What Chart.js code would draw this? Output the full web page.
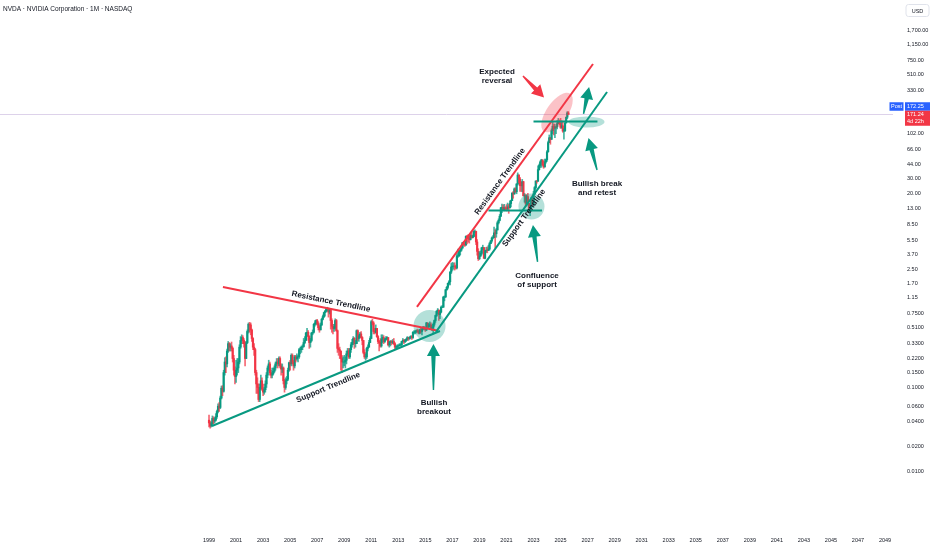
<!DOCTYPE html>
<html><head><meta charset="utf-8">
<script src="https://cdn.jsdelivr.net/npm/chart.js@4.4.1/dist/chart.umd.min.js"></script>
<style>html,body{margin:0;padding:0;background:#fff;overflow:hidden}canvas{display:block}</style>
</head><body>
<canvas id="c" width="932" height="550"></canvas>
<script>
// ---- DATA (NVDA monthly, split-adjusted, Jan 1999 .. Aug 2025) ----
const firstYear = 1999;
const firstOpen = 0.041;
const closes = [
0.038,0.035,0.037,0.043,0.040,0.041,0.045,0.052,0.060,0.058,0.075,0.098,
0.090,0.150,0.200,0.190,0.270,0.330,0.300,0.310,0.290,0.220,0.160,0.135,
0.160,0.170,0.200,0.300,0.360,0.390,0.360,0.330,0.220,0.340,0.460,0.560,
0.550,0.480,0.380,0.300,0.280,0.150,0.110,0.100,0.072,0.100,0.120,0.096,
0.088,0.094,0.110,0.140,0.170,0.190,0.150,0.140,0.145,0.155,0.170,0.190,
0.200,0.190,0.220,0.180,0.165,0.170,0.120,0.100,0.120,0.125,0.160,0.196,
0.190,0.240,0.200,0.180,0.230,0.220,0.230,0.230,0.280,0.280,0.300,0.305,
0.340,0.360,0.440,0.450,0.400,0.340,0.360,0.440,0.450,0.560,0.580,0.620,
0.570,0.510,0.480,0.550,0.640,0.690,0.770,0.800,0.850,0.850,0.780,0.840,
0.620,0.530,0.500,0.510,0.620,0.470,0.290,0.280,0.270,0.220,0.200,0.200,
0.200,0.210,0.250,0.270,0.230,0.280,0.320,0.340,0.380,0.330,0.330,0.470,
0.380,0.400,0.430,0.390,0.360,0.260,0.230,0.230,0.290,0.300,0.340,0.380,
0.600,0.580,0.460,0.450,0.500,0.400,0.350,0.340,0.310,0.370,0.390,0.350,
0.370,0.380,0.390,0.320,0.340,0.350,0.340,0.350,0.330,0.300,0.300,0.310,
0.310,0.320,0.320,0.350,0.360,0.350,0.360,0.370,0.390,0.380,0.390,0.400,
0.390,0.450,0.450,0.460,0.470,0.460,0.440,0.480,0.460,0.490,0.510,0.500,
0.480,0.580,0.520,0.550,0.550,0.500,0.500,0.560,0.620,0.710,0.800,0.824,
0.73,0.78,0.89,0.89,1.17,1.18,1.43,1.53,1.71,1.78,2.32,2.67,
2.73,2.73,2.72,2.60,3.60,3.61,4.06,4.23,4.47,5.17,5.01,4.84,
6.14,6.05,5.79,5.62,6.30,5.92,6.12,7.02,7.03,5.27,4.08,3.34,
3.59,3.86,4.49,4.52,3.38,4.11,4.22,4.19,4.35,5.03,5.42,5.88,
5.91,6.75,6.59,7.31,8.88,9.49,10.61,13.38,13.53,12.53,13.40,13.05,
12.98,13.71,13.34,15.01,16.24,20.00,19.50,22.38,20.71,25.56,32.67,29.40,
24.48,24.38,27.28,18.54,18.67,15.15,18.15,15.08,12.13,13.48,16.91,14.61,
19.52,23.20,27.77,27.75,37.82,42.30,46.72,49.35,43.50,40.78,46.77,49.52,
61.53,79.11,90.36,86.40,109.63,123.54,117.02,119.37,121.44,132.76,138.25,134.29,
120.07,124.92,108.38,108.92,135.13,157.99,177.87,171.24
];
const highs = [
0.047,0.040,0.039,0.046,0.045,0.044,0.049,0.054,0.064,0.066,0.079,0.104,
0.105,0.160,0.225,0.230,0.285,0.350,0.340,0.330,0.345,0.300,0.240,0.175,
0.210,0.220,0.220,0.320,0.400,0.420,0.410,0.380,0.350,0.350,0.480,0.580,
0.590,0.580,0.490,0.390,0.330,0.290,0.160,0.130,0.110,0.110,0.140,0.130,
0.110,0.100,0.120,0.150,0.180,0.210,0.200,0.160,0.170,0.170,0.180,0.200,
0.220,0.220,0.230,0.230,0.190,0.190,0.175,0.125,0.130,0.135,0.170,0.200,
0.210,0.250,0.250,0.210,0.240,0.240,0.250,0.240,0.290,0.300,0.310,0.320,
0.380,0.400,0.450,0.500,0.470,0.410,0.380,0.450,0.480,0.570,0.620,0.630,
0.640,0.600,0.530,0.580,0.660,0.720,0.780,0.820,0.860,0.890,0.870,0.860,
0.840,0.650,0.560,0.560,0.650,0.640,0.480,0.330,0.300,0.270,0.240,0.230,
0.240,0.230,0.270,0.290,0.290,0.290,0.340,0.370,0.400,0.390,0.360,0.480,
0.480,0.420,0.450,0.460,0.400,0.360,0.280,0.250,0.300,0.320,0.360,0.400,
0.620,0.640,0.600,0.500,0.550,0.500,0.410,0.360,0.380,0.420,0.420,0.410,
0.380,0.400,0.400,0.390,0.350,0.360,0.360,0.370,0.380,0.340,0.310,0.320,
0.320,0.330,0.330,0.350,0.380,0.370,0.370,0.380,0.400,0.390,0.400,0.410,
0.410,0.460,0.470,0.470,0.480,0.490,0.480,0.490,0.500,0.500,0.530,0.530,
0.510,0.590,0.580,0.570,0.600,0.580,0.520,0.580,0.630,0.720,0.810,0.860,
0.82,0.80,0.92,0.93,1.20,1.21,1.45,1.57,1.72,1.84,2.36,2.94,
3.02,2.98,2.99,2.81,3.84,4.35,4.17,4.38,4.69,5.20,5.35,5.03,
6.24,6.33,6.43,6.27,6.65,6.93,6.36,7.19,7.33,7.10,5.63,4.39,
4.04,4.13,4.57,4.83,4.55,4.21,4.55,4.61,4.79,5.20,5.52,6.05,
6.29,7.90,7.35,7.62,9.20,9.90,11.14,13.53,14.77,14.52,14.70,13.78,
14.57,15.23,14.64,16.16,16.50,20.14,20.88,22.99,23.07,25.90,34.67,32.90,
30.75,26.88,28.99,27.55,19.73,19.39,19.08,19.91,14.05,13.81,17.87,18.77,
20.98,23.88,27.87,28.15,41.94,43.97,48.09,50.23,49.04,47.61,50.55,50.43,
63.49,82.36,97.40,90.40,114.94,140.76,131.26,131.26,124.36,144.42,152.89,146.54,
153.13,143.44,137.22,114.84,143.49,158.71,183.88,184.48
];
const lows = [
0.034,0.033,0.034,0.036,0.037,0.038,0.040,0.043,0.050,0.052,0.056,0.073,
0.080,0.088,0.140,0.150,0.175,0.260,0.270,0.270,0.270,0.200,0.140,0.110,
0.115,0.140,0.150,0.190,0.290,0.330,0.330,0.300,0.180,0.220,0.330,0.440,
0.450,0.420,0.350,0.280,0.240,0.140,0.085,0.085,0.068,0.068,0.095,0.092,
0.080,0.083,0.088,0.100,0.130,0.160,0.140,0.130,0.130,0.140,0.150,0.160,
0.180,0.170,0.180,0.170,0.140,0.150,0.110,0.088,0.095,0.110,0.120,0.155,
0.160,0.180,0.190,0.160,0.170,0.200,0.210,0.200,0.220,0.250,0.260,0.280,
0.300,0.330,0.360,0.410,0.360,0.290,0.300,0.350,0.420,0.440,0.530,0.550,
0.550,0.480,0.450,0.480,0.540,0.630,0.670,0.700,0.780,0.800,0.680,0.740,
0.490,0.450,0.430,0.460,0.490,0.460,0.260,0.240,0.220,0.160,0.150,0.170,
0.180,0.170,0.190,0.240,0.220,0.220,0.260,0.300,0.320,0.290,0.300,0.330,
0.360,0.350,0.390,0.380,0.320,0.250,0.220,0.210,0.220,0.270,0.300,0.340,
0.380,0.550,0.430,0.430,0.440,0.390,0.330,0.270,0.300,0.300,0.340,0.330,
0.340,0.360,0.370,0.310,0.300,0.310,0.320,0.330,0.320,0.280,0.280,0.290,
0.300,0.310,0.310,0.310,0.340,0.330,0.340,0.350,0.360,0.360,0.370,0.380,
0.370,0.380,0.430,0.430,0.440,0.450,0.430,0.430,0.440,0.420,0.480,0.480,
0.460,0.470,0.510,0.500,0.520,0.490,0.470,0.430,0.530,0.590,0.690,0.750,
0.62,0.65,0.76,0.88,0.89,1.06,1.16,1.42,1.47,1.63,1.64,2.23,
2.43,2.51,2.45,2.52,2.53,3.47,3.55,3.70,4.11,4.44,4.82,4.66,
4.95,5.01,5.26,5.11,5.55,5.84,5.89,6.06,6.80,4.89,3.69,3.18,
3.26,3.55,3.70,4.27,3.36,3.32,3.95,3.92,4.16,4.23,5.03,5.23,
5.71,5.99,4.50,5.99,7.33,8.60,9.37,10.58,11.69,12.35,12.31,12.60,
12.26,12.66,11.50,13.35,13.72,16.21,17.35,19.34,20.28,19.60,24.86,26.38,
20.89,20.86,20.71,18.50,15.60,14.10,14.05,14.79,11.95,10.81,13.52,13.97,
14.03,19.18,22.29,26.20,27.23,37.33,40.14,40.31,42.25,39.23,40.57,45.01,
47.32,61.05,79.44,75.61,86.37,101.04,97.51,90.69,100.95,115.14,132.11,128.84,
116.25,116.76,104.77,86.62,107.11,137.88,151.49,168.80
];
const yearTicks = [1999,2001,2003,2005,2007,2009,2011,2013,2015,2017,2019,2021,2023,2025,2027,2029,2031,2033,2035,2037,2039,2041,2043,2045,2047,2049];
const priceTicks = [1700,1150,750,510,330,102,66,44,30,20,13,8.5,5.5,3.7,2.5,1.7,1.15,0.75,0.51,0.33,0.22,0.15,0.10,0.06,0.04,0.02,0.01];
const lastPrice = 171.24;
const postPrice = 172.25;
const timeLeft = '4d 22h';

// ---- drawings in data space: [time, price] ----
const trendLines = [
  {from:[2000.03,1.547], to:[2015.86,0.473], color:'red'},
  {from:[1999.22,0.0350], to:[2016.08,0.466], color:'green'},
  {from:[2014.38,0.897], to:[2027.40,673], color:'red'},
  {from:[2015.79,0.454], to:[2028.44,314], color:'green'},
  {from:[2019.67,12.44], to:[2023.63,12.44], color:'green'},
  {from:[2023.00,140.6], to:[2027.73,140.6], color:'green'}
];
const zones = [
  {at:[2015.31,0.534], rx:16, ry:16, rot:0, color:'green'},
  {at:[2022.85,13.87], rx:13, ry:13, rot:0, color:'green'},
  {at:[2026.92,138.7], rx:18, ry:5.5, rot:0, color:'green'},
  {at:[2024.74,179.7], rx:23, ry:10.5, rot:-55, color:'red'}
];
const arrows = [
  {from:[2015.60,0.0934], to:[2015.60,0.327], color:'green'},
  {from:[2023.30,3.06], to:[2022.96,8.38], color:'green'},
  {from:[2027.70,37.5], to:[2027.07,89.7], color:'green'},
  {from:[2026.70,172.5], to:[2027.11,359.8], color:'green'},
  {from:[2022.22,485.8], to:[2023.78,270.4], color:'red'}
];
const notes = [
  {at:[2020.30,479], lines:['Expected','reversal']},
  {at:[2015.64,0.058], lines:['Bullish','breakout']},
  {at:[2023.26,1.846], lines:['Confluence','of support']},
  {at:[2027.70,22.65], lines:['Bullish break','and retest']}
];
const lineLabels = [
  {at:[2008.02,1.036], text:'Resistance Trendline', line:0},
  {at:[2007.82,0.100], text:'Support Trendline', line:1},
  {at:[2020.52,27.4], text:'Resistance Trendline', line:2},
  {at:[2022.30,10.14], text:'Support Trendline', line:3}
];

// ---- build ----
const UP = '#089981', DOWN = '#f23645';
const COLORS = {green: UP, red: DOWN};
const FONT = "'Liberation Sans', Arial, sans-serif";
const opens = closes.map((c, i) => i === 0 ? firstOpen : closes[i - 1]);
const times = closes.map((c, i) => firstYear + i / 12);
const candleColors = closes.map((c, i) => c >= opens[i] ? UP : DOWN);
const wickColors = closes.map((c, i) => c >= opens[i] ? 'rgba(8,153,129,0.75)' : 'rgba(242,54,69,0.75)');
const wickData = times.map((t, i) => ({x: t, y: [Math.min(lows[i], opens[i], closes[i]), Math.max(highs[i], opens[i], closes[i])]}));
const bodyData = times.map((t, i) => ({x: t, y: [opens[i], closes[i]]}));

function fmtPrice(v) {
  if (v >= 1) return v.toLocaleString('en-US', {minimumFractionDigits: 2, maximumFractionDigits: 2});
  return v.toFixed(4);
}

const drawings = {
  id: 'drawings',
  beforeDatasetsDraw(chart) {
    const ctx = chart.ctx, ca = chart.chartArea, ys = chart.scales.y;
    const y = Math.round(ys.getPixelForValue(lastPrice)) + 0.5;
    ctx.save();
    ctx.strokeStyle = '#ddd2ea';
    ctx.lineWidth = 1;
    ctx.beginPath(); ctx.moveTo(ca.left, y); ctx.lineTo(ca.right, y); ctx.stroke();
    ctx.restore();
  },
  afterDatasetsDraw(chart) {
    const ctx = chart.ctx, xs = chart.scales.x, ys = chart.scales.y;
    const P = a => [xs.getPixelForValue(a[0]), ys.getPixelForValue(a[1])];
    ctx.save();
    // zones
    zones.forEach(z => {
      const [cx, cy] = P(z.at);
      ctx.fillStyle = z.color === 'green' ? 'rgba(8,153,129,0.3)' : 'rgba(242,54,69,0.3)';
      ctx.beginPath(); ctx.ellipse(cx, cy, z.rx, z.ry, z.rot * Math.PI / 180, 0, Math.PI * 2); ctx.fill();
    });
    // trend lines
    ctx.lineWidth = 2; ctx.lineCap = 'butt';
    trendLines.forEach(l => {
      const a = P(l.from), b = P(l.to);
      ctx.strokeStyle = COLORS[l.color];
      ctx.beginPath(); ctx.moveTo(a[0], a[1]); ctx.lineTo(b[0], b[1]); ctx.stroke();
    });
    // arrows
    arrows.forEach(ar => {
      const [x1, y1] = P(ar.from), [x2, y2] = P(ar.to);
      const dx = x2 - x1, dy = y2 - y1, L = Math.hypot(dx, dy);
      const ux = dx / L, uy = dy / L, nx = -uy, ny = ux;
      const hl = 12, hw = 6.5, s0 = 0.7, s1 = 2.2;
      const bx = x2 - ux * hl, by = y2 - uy * hl;
      ctx.fillStyle = COLORS[ar.color];
      ctx.beginPath();
      ctx.moveTo(x1 + nx * s0, y1 + ny * s0);
      ctx.lineTo(bx + nx * s1, by + ny * s1);
      ctx.lineTo(bx + nx * hw, by + ny * hw);
      ctx.lineTo(x2, y2);
      ctx.lineTo(bx - nx * hw, by - ny * hw);
      ctx.lineTo(bx - nx * s1, by - ny * s1);
      ctx.lineTo(x1 - nx * s0, y1 - ny * s0);
      ctx.closePath(); ctx.fill();
    });
    // notes
    ctx.fillStyle = '#131722';
    ctx.font = 'bold 8px ' + FONT;
    ctx.textAlign = 'center'; ctx.textBaseline = 'middle';
    notes.forEach(n => {
      const [cx, cy] = P(n.at);
      const lh = 9.5, y0 = cy - (n.lines.length - 1) * lh / 2;
      n.lines.forEach((s, i) => ctx.fillText(s, cx, y0 + i * lh));
    });
    // rotated line labels
    lineLabels.forEach(t => {
      const l = trendLines[t.line];
      const a = P(l.from), b = P(l.to);
      const ang = Math.atan2(b[1] - a[1], b[0] - a[0]);
      const [cx, cy] = P(t.at);
      ctx.save(); ctx.translate(cx, cy); ctx.rotate(ang);
      ctx.fillText(t.text, 0, 0);
      ctx.restore();
    });
    ctx.restore();
  },
  afterDraw(chart) {
    const ctx = chart.ctx, ca = chart.chartArea, ys = chart.scales.y;
    ctx.save();
    // title
    ctx.fillStyle = '#131722';
    ctx.font = '6.5px ' + FONT;
    ctx.textAlign = 'left'; ctx.textBaseline = 'middle';
    ctx.fillText('NVDA \u00b7 NVIDIA Corporation \u00b7 1M \u00b7 NASDAQ', 3, 9);
    // USD box
    const ux = ca.right + 13, uy = 4.5;
    ctx.strokeStyle = '#e0e3eb'; ctx.lineWidth = 1;
    ctx.beginPath(); ctx.roundRect(ux, uy, 23, 12, 2.5); ctx.stroke();
    ctx.font = '5.5px ' + FONT; ctx.textAlign = 'center';
    ctx.fillText('USD', ux + 11.5, uy + 6.5);
    // price labels
    const y0 = ys.getPixelForValue(lastPrice);
    const bx = ca.right + 12;
    ctx.fillStyle = '#2962ff';
    ctx.fillRect(bx, y0 - 12, 25, 8.5);
    ctx.fillRect(ca.right - 3.5, y0 - 12, 14, 8.5);
    ctx.fillStyle = '#f23645';
    ctx.fillRect(bx, y0 - 3.5, 25, 15);
    ctx.fillStyle = '#ffffff';
    ctx.font = '5.5px ' + FONT; ctx.textAlign = 'left';
    ctx.fillText(postPrice.toFixed(2), bx + 2, y0 - 7.6);
    ctx.fillText(lastPrice.toFixed(2), bx + 2, y0 + 0.5);
    ctx.fillText(timeLeft, bx + 2, y0 + 7);
    ctx.textAlign = 'center';
    ctx.fillText('Post', ca.right + 3.5, y0 - 7.6);
    ctx.restore();
  }
};

Chart.defaults.font.family = FONT;
new Chart(document.getElementById('c'), {
  type: 'bar',
  data: {
    datasets: [
      {data: wickData, backgroundColor: wickColors, barThickness: 1, grouped: false, borderWidth: 0},
      {data: bodyData, backgroundColor: candleColors, barThickness: 1.5, grouped: false, borderWidth: 0}
    ]
  },
  options: {
    responsive: false, animation: false, devicePixelRatio: 1,
    layout: {padding: 0},
    plugins: {legend: {display: false}, tooltip: {enabled: false}, title: {display: false}},
    scales: {
      x: {
        type: 'linear', min: 1983.54, max: 2049.59, offset: false, bounds: 'data',
        grid: {display: false, drawTicks: false}, border: {display: false},
        ticks: {autoSkip: false, maxRotation: 0, padding: 10, color: '#131722', font: {size: 5.5}, callback: v => String(v)},
        afterBuildTicks: s => { s.ticks = yearTicks.map(v => ({value: v})); },
        afterFit: s => { s.height = 23; s.paddingLeft = 0; s.paddingRight = 0; }
      },
      y: {
        type: 'logarithmic', position: 'right', min: 0.00223, max: 3854, bounds: 'data',
        grid: {display: false, drawTicks: false}, border: {display: false},
        ticks: {autoSkip: false, padding: 14, color: '#131722', font: {size: 5.5}, callback: v => fmtPrice(v)},
        afterBuildTicks: s => { s.ticks = priceTicks.map(v => ({value: v})); },
        afterFit: s => { s.width = 39; s.paddingTop = 0; s.paddingBottom = 0; }
      }
    }
  },
  plugins: [drawings]
});
</script>
</body></html>
